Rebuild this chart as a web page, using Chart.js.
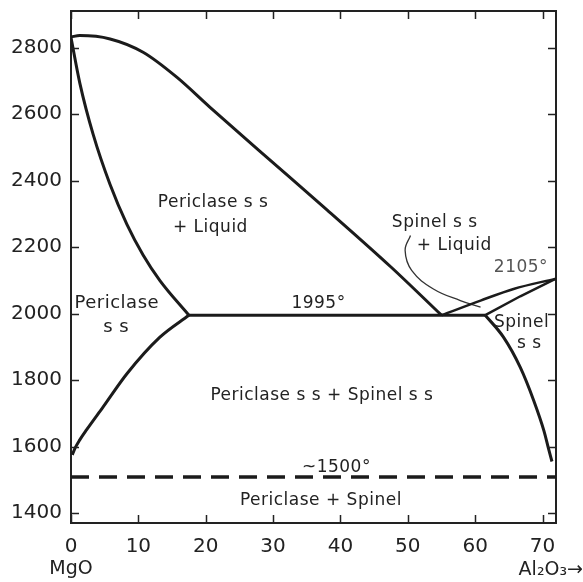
<!DOCTYPE html>
<html lang="en">
<head>
  <meta charset="UTF-8">
  <title>MgO - Al2O3 phase diagram</title>
  <script src="https://cdn.jsdelivr.net/npm/chart.js"></script>
  <style>
    body { margin: 0; background: #fff; }
  </style>
</head>
<body>
  <canvas id="myChart" width="583" height="582"></canvas>

  <script>
    // axis ticks
    const xTicks = [0, 10, 20, 30, 40, 50, 60, 70];
    const yTicks = [1400, 1600, 1800, 2000, 2200, 2400, 2600, 2800];

    // phase boundaries (wt% Al2O3, temperature C)
    const liquidusX = [0, 1.3, 5.8, 10.7, 15.7, 20.6, 28.1, 38.0, 47.5, 55.0];
    const liquidusT = [2832, 2836, 2826, 2786, 2711, 2621, 2487, 2312, 2140, 1995];

    const solidusX = [0, 1.3, 3.3, 5.8, 8.3, 10.7, 13.2, 17.5];
    const solidusT = [2830, 2694, 2538, 2388, 2268, 2176, 2099, 1995];

    const periclaseSolvusX = [0.2, 0.6, 1.3, 2.3, 4.8, 8.3, 13.2, 17.5];
    const periclaseSolvusT = [1575, 1595, 1620, 1650, 1720, 1819, 1929, 1995];

    const spinelSolvusX = [61.5, 64.2, 66.7, 68.7, 70.2, 70.9, 71.4];
    const spinelSolvusT = [1995, 1929, 1838, 1738, 1648, 1593, 1555];

    const spinelLiquidusX = [55.0, 60.8, 65.7, 72];
    const spinelLiquidusT = [1995, 2039, 2074, 2105];

    const spinelSolidusX = [61.5, 66.7, 72];
    const spinelSolidusT = [1995, 2052, 2105];

    const eutecticX = [17.5, 61.5];
    const eutecticT = [1995, 1995];

    const exsolutionX = [0, 72];
    const exsolutionT = [1508, 1508];

    const leaderX = [50.4, 49.6, 50.6, 53.8, 57.8, 60.8];
    const leaderT = [2235, 2190, 2129, 2074, 2039, 2019];

    // region labels
    const labelText = ['Periclase s s', '+ Liquid', 'Spinel s s', '+ Liquid', '2105°', '1995°',
      'Periclase', 's s', 'Spinel', 's s', 'Periclase s s + Spinel s s', '~1500°', 'Periclase + Spinel'];
    const labelX = [21.1, 20.7, 54.0, 56.9, 66.8, 36.75, 6.8, 6.7, 66.9, 68.05, 37.25, 39.4, 37.1];
    const labelT = [2335, 2260, 2275, 2205, 2139, 2030, 2030, 1959, 1974, 1909, 1753, 1538, 1437];

    function pts(xs, ts) {
      return xs.map((v, i) => ({ x: v, y: ts[i] }));
    }

    function curve(xs, ts, extra) {
      return Object.assign({
        data: pts(xs, ts),
        showLine: true,
        borderColor: '#1b1b1b',
        borderWidth: 3,
        pointRadius: 0,
        cubicInterpolationMode: 'monotone',
        fill: false
      }, extra || {});
    }

    // short tick marks pointing into the frame, on all four sides
    const innerTicks = {
      id: 'innerTicks',
      afterDraw(chart) {
        const { ctx, chartArea: a, scales: { x, y } } = chart;
        const len = 8;
        ctx.save();
        ctx.strokeStyle = '#222';
        ctx.lineWidth = 1.5;
        ctx.beginPath();
        xTicks.forEach(v => {
          const px = Math.round(x.getPixelForValue(v)) + 0.5;
          ctx.moveTo(px, a.bottom); ctx.lineTo(px, a.bottom - len);
          ctx.moveTo(px, a.top); ctx.lineTo(px, a.top + len);
        });
        yTicks.forEach(v => {
          const py = Math.round(y.getPixelForValue(v)) + 0.5;
          ctx.moveTo(a.left, py); ctx.lineTo(a.left + len, py);
          ctx.moveTo(a.right, py); ctx.lineTo(a.right - len, py);
        });
        ctx.stroke();
        ctx.restore();
      }
    };

    const labelPlugin = {
      id: 'regionLabels',
      afterDatasetsDraw(chart) {
        const { ctx, scales: { x, y } } = chart;
        ctx.save();
        ctx.textAlign = 'center';
        ctx.textBaseline = 'middle';
        ctx.letterSpacing = '0.5px';
        labelText.forEach((t, i) => {
          ctx.fillStyle = t === '2105°' ? '#555' : '#222';
          ctx.font = (t === 'Periclase' || (t === 's s' && i === 7)) ? '500 18px "DejaVu Sans"' : '17px "DejaVu Sans"';
          ctx.fillText(t, x.getPixelForValue(labelX[i]), y.getPixelForValue(labelT[i]));
        });
        // component names under the axis ends
        ctx.letterSpacing = '0px';
        ctx.fillStyle = '#222';
        ctx.font = '19px "DejaVu Sans"';
        ctx.fillText('MgO', x.getPixelForValue(0), 569);
        ctx.textAlign = 'right';
        ctx.fillText('Al₂O₃→', chart.width, 570);
        ctx.restore();
      }
    };

    const tickFont = { family: 'DejaVu Sans', size: 20 };
    const frameGrid = { display: false, drawTicks: false };
    const frameBorder = { display: true, color: '#222', width: 2 };
    const noPad = s => { s.paddingTop = 0; s.paddingBottom = 0; s.paddingLeft = 0; s.paddingRight = 0; };

    const ctx = document.getElementById('myChart').getContext('2d');
    new Chart(ctx, {
      type: 'scatter',
      data: {
        datasets: [
          curve(liquidusX, liquidusT),
          curve(solidusX, solidusT),
          curve(periclaseSolvusX, periclaseSolvusT),
          curve(spinelSolvusX, spinelSolvusT),
          curve(spinelLiquidusX, spinelLiquidusT, { borderWidth: 2.5 }),
          curve(spinelSolidusX, spinelSolidusT, { borderWidth: 2.5, cubicInterpolationMode: 'default', tension: 0 }),
          curve(eutecticX, eutecticT, { cubicInterpolationMode: 'default', tension: 0 }),
          curve(exsolutionX, exsolutionT, { cubicInterpolationMode: 'default', tension: 0, borderDash: [18, 10], borderWidth: 3.5 }),
          curve(leaderX, leaderT, { borderWidth: 1.3, borderColor: '#333', cubicInterpolationMode: 'default', tension: 0.4 })
        ]
      },
      options: {
        responsive: false,
        animation: false,
        layout: { padding: 0 },
        plugins: {
          legend: { display: false },
          tooltip: { enabled: false }
        },
        scales: {
          x: {
            type: 'linear', position: 'bottom', min: 0, max: 72,
            afterBuildTicks: s => { s.ticks = xTicks.map(v => ({ value: v })); },
            afterFit: s => { s.height = 59; noPad(s); },
            grid: frameGrid, border: frameBorder,
            ticks: { font: tickFont, color: '#222', padding: 12, maxRotation: 0, callback: v => String(v) }
          },
          y: {
            type: 'linear', position: 'left', min: 1370, max: 2910,
            afterBuildTicks: s => { s.ticks = yTicks.map(v => ({ value: v })); },
            afterFit: s => { s.width = 71; noPad(s); },
            grid: frameGrid, border: frameBorder,
            ticks: { font: tickFont, color: '#222', padding: 9, callback: v => String(v) }
          },
          x2: {
            axis: 'x', type: 'linear', position: 'top', min: 0, max: 72,
            afterFit: s => { s.height = 11; noPad(s); },
            grid: frameGrid, border: frameBorder,
            ticks: { display: false }
          },
          y2: {
            axis: 'y', type: 'linear', position: 'right', min: 1370, max: 2910,
            afterFit: s => { s.width = 27; noPad(s); },
            grid: frameGrid, border: frameBorder,
            ticks: { display: false }
          }
        }
      },
      plugins: [labelPlugin, innerTicks]
    });
  </script>
</body>
</html>
